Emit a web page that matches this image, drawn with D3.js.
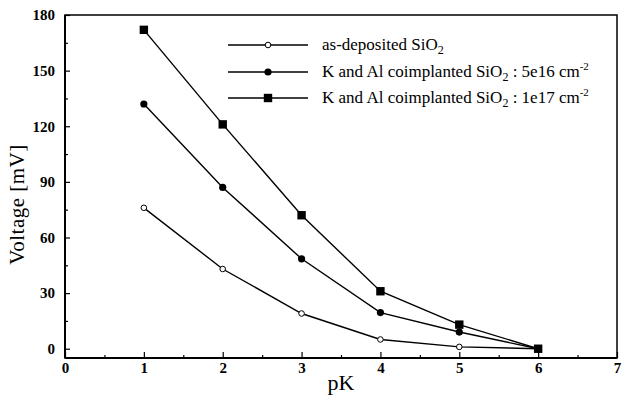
<!DOCTYPE html>
<html>
<head>
<meta charset="utf-8">
<script src="https://cdn.jsdelivr.net/npm/d3@7"></script>
<style>
  body { margin: 0; background: #fff; }
  svg text { font-family: 'Liberation Serif', 'Times New Roman', Times, serif; }
</style>
</head>
<body>
<div id="chart"></div>
<script>
const pK = [1, 2, 3, 4, 5, 6]
const asDeposited = [76, 43, 19, 5, 1, 0]
const dose5e16 = [132, 87, 48.5, 19.5, 9, 0]
const dose1e17 = [172, 121, 72, 31, 13, 0]
const xTicks = [0, 1, 2, 3, 4, 5, 6, 7]
const yTicks = [0, 30, 60, 90, 120, 150, 180]

const series = [
    { name: 'as-deposited SiO', sub: '2', tail: '', values: asDeposited, marker: 'open' },
    { name: 'K and Al coimplanted SiO', sub: '2', tail: ' : 5e16 cm', values: dose5e16, marker: 'dot' },
    { name: 'K and Al coimplanted SiO', sub: '2', tail: ' : 1e17 cm', values: dose1e17, marker: 'square' }
]

const W = 625, H = 396
const plot = { left: 65, right: 617, top: 15, bottom: 358 }

const svg = d3.select('#chart').append('svg')
    .attr('width', W)
    .attr('height', H)

const x = d3.scaleLinear().domain([0, 7]).range([plot.left, plot.right])
const y = d3.scaleLinear().domain([-5, 180]).range([plot.bottom, plot.top])

// frame
svg.append('rect')
    .attr('x', plot.left).attr('y', plot.top)
    .attr('width', plot.right - plot.left).attr('height', plot.bottom - plot.top)
    .attr('fill', 'none').attr('stroke', '#000').attr('stroke-width', 1.5)
svg.append('line')
    .attr('x1', plot.left).attr('x2', plot.left).attr('y1', plot.top).attr('y2', plot.bottom)
    .attr('stroke', '#000').attr('stroke-width', 2)
svg.append('line')
    .attr('x1', plot.left).attr('x2', plot.right).attr('y1', plot.bottom).attr('y2', plot.bottom)
    .attr('stroke', '#000').attr('stroke-width', 2)

// x axis (ticks point inward)
const xAxis = svg.append('g')
    .attr('transform', `translate(0, ${plot.bottom})`)
    .call(d3.axisBottom(x).tickValues(xTicks).tickSize(-6).tickPadding(4).tickFormat(d3.format('d')))
xAxis.select('.domain').remove()
xAxis.selectAll('text')
    .attr('font-size', 15).attr('font-weight', 'bold')
svg.append('g')
    .attr('transform', `translate(0, ${plot.bottom})`)
    .call(d3.axisBottom(x).tickValues(d3.range(0.5, 7, 1)).tickSize(-3).tickFormat(''))
    .select('.domain').remove()

// y axis
const yAxis = svg.append('g')
    .attr('transform', `translate(${plot.left}, 0)`)
    .call(d3.axisLeft(y).tickValues(yTicks).tickSize(-5).tickPadding(10))
yAxis.select('.domain').remove()
yAxis.selectAll('text')
    .attr('font-size', 15).attr('font-weight', 'bold')
svg.append('g')
    .attr('transform', `translate(${plot.left}, 0)`)
    .call(d3.axisLeft(y).tickValues(d3.range(15, 180, 30)).tickSize(-3).tickFormat(''))
    .select('.domain').remove()

svg.selectAll('.tick line').attr('stroke-width', 1.2)

// axis titles
svg.append('text')
    .attr('x', (plot.left + plot.right) / 2).attr('y', 390)
    .attr('text-anchor', 'middle')
    .attr('font-size', 22)
    .text('pK')
svg.append('text')
    .attr('transform', `translate(24, ${(plot.top + plot.bottom) / 2 + 18}) rotate(-90)`)
    .attr('text-anchor', 'middle')
    .attr('font-size', 21)
    .attr('letter-spacing', 0.5)
    .text('Voltage  [mV]')

// lines + markers
const line = d3.line()
    .x((d, i) => x(pK[i]))
    .y(d => y(d))

const drawMarker = (g, kind, cx, cy) => {
    if (kind === 'open') {
        g.append('circle').attr('cx', cx).attr('cy', cy).attr('r', 2.8)
            .attr('fill', '#fff').attr('stroke', '#000').attr('stroke-width', 1)
    } else if (kind === 'dot') {
        g.append('circle').attr('cx', cx).attr('cy', cy).attr('r', 3.6)
            .attr('fill', '#000')
    } else {
        g.append('rect').attr('x', cx - 4.2).attr('y', cy - 4.2)
            .attr('width', 8.4).attr('height', 8.4).attr('fill', '#000')
    }
}

series.forEach(s => {
    const g = svg.append('g')
    g.append('path')
        .datum(s.values)
        .attr('d', line)
        .attr('fill', 'none')
        .attr('stroke', '#000')
        .attr('stroke-width', 1.4)
    s.values.forEach((v, i) => drawMarker(g, s.marker, x(pK[i]), y(v)))
})

// legend
const legendY = [45, 72, 98]
series.forEach((s, i) => {
    const g = svg.append('g')
    const ly = legendY[i]
    g.append('line')
        .attr('x1', 228).attr('x2', 308).attr('y1', ly).attr('y2', ly)
        .attr('stroke', '#000').attr('stroke-width', 1.4)
    drawMarker(g, s.marker, 268, ly)
    const t = g.append('text')
        .attr('x', 322).attr('y', ly + 5)
        .attr('font-size', 17)
    t.append('tspan').text(s.name)
    t.append('tspan').attr('font-size', 12).attr('dy', 4).text(s.sub)
    if (s.tail) {
        t.append('tspan').attr('dy', -4).text(s.tail)
        t.append('tspan').attr('font-size', 11).attr('dy', -7).text('-2')
    }
})
</script>
</body>
</html>
